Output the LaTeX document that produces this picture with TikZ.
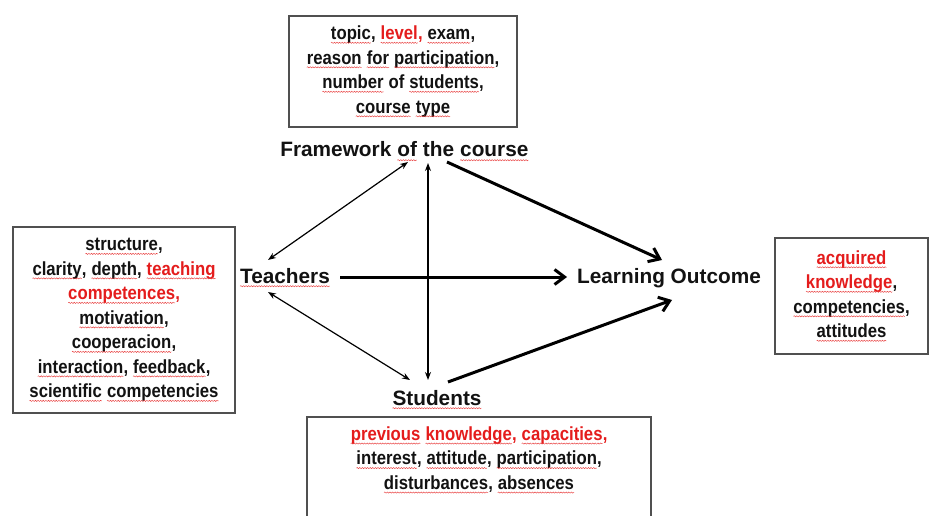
\documentclass[tikz,border=0pt]{standalone}
\usepackage{fontspec}
\setmainfont{Liberation Sans}
\newfontfamily\boxfont{Liberation Sans}[FakeStretch=0.88]
\usepackage{xcolor}
\usetikzlibrary{arrows.meta,calc,decorations.pathmorphing}

\definecolor{hot}{RGB}{228,28,28}
\definecolor{frame}{RGB}{80,80,80}
\definecolor{ink}{RGB}{18,18,18}

\tikzset{
  wvword/.style={inner sep=0pt, outer sep=0pt, draw=none, fill=none,
    minimum width=0pt, minimum height=0pt, anchor=base},
  wvline/.style={draw=hot!85, line width=0.45pt, decorate,
    decoration={snake, amplitude=0.6pt, segment length=2.6pt}},
}

% a word with a red wavy underline
\newcommand\wv[2][ink]{\tikz[baseline=(w.base)]{\node[wvword,text=#1] (w) {#2};%
  \draw[wvline] ([yshift=-3.2pt]w.base west) -- ([yshift=-3.2pt]w.base east);}}
\newcommand\hl[1]{\textcolor{hot}{#1}}

\begin{document}
\begin{tikzpicture}[x=1pt,y=-1pt,
  termlabel/.style={font=\bfseries\fontsize{20.8}{24}\selectfont, text=ink, inner sep=0pt, outer sep=0pt},
  boxtext/.style={font=\boxfont\bfseries\fontsize{19}{24.5}\selectfont, text=ink, align=center, inner sep=0pt},
  infobox/.style={boxtext, draw=frame, line width=1.5pt},
  link/.style={line width=1.2pt, {Stealth[length=8pt,width=6pt]}-{Stealth[length=8pt,width=6pt]}},
  effect/.style={line width=3pt, -{Straight Barb[length=10pt,width=15pt]}}]

\useasboundingbox (0,0) rectangle (932,516);
\clip (0,0) rectangle (932,516);

% boxes with the factors
\node[infobox, minimum width=228pt, minimum height=111pt] (fwbox) at (403,71.5)
  {\wv{topic}, \wv[hot]{level}\hl{,} \wv{exam},\\
   \wv{reason} \wv{for} \wv{participation},\\
   \wv{number} of \wv{students},\\
   \wv{course} \wv{type}};

\node[infobox, minimum width=222pt, minimum height=186pt] (tebox) at (124,320)
  {\wv{structure},\\
   \wv{clarity}, \wv{depth}, \wv[hot]{teaching}\\
   \wv[hot]{competences}\hl{,}\\
   \wv{motivation},\\
   \wv{cooperacion},\\
   \wv{interaction}, \wv{feedback},\\
   \wv{scientific} \wv{competencies}};

\node[infobox, minimum width=153pt, minimum height=116pt] (lobox) at (851.5,296)
  {\wv[hot]{acquired}\\
   \wv[hot]{knowledge},\\
   \wv{competencies},\\
   \wv{attitudes}};

\node[infobox, minimum width=344pt, minimum height=140pt, anchor=north] (stbox) at (479,416) {};
\node[boxtext] (sttext) at (479,460)
  {\wv[hot]{previous} \wv[hot]{knowledge}\hl{,} \wv[hot]{capacities}\hl{,}\\
   \wv{interest}, \wv{attitude}, \wv{participation},\\
   \wv{disturbances}, \wv{absences}};

% the four factors
\node[termlabel, anchor=base] (fw) at (404.5,157) {Framework \wv{of} the \wv{course}};
\node[termlabel, anchor=base] (te) at (285,283) {\wv{Teachers}};
\node[termlabel, anchor=base] (st) at (437,405) {\wv{Students}};
\node[termlabel, anchor=base] (lo) at (669,283) {Learning Outcome};

% mutual influences
\draw[link] ($(fw.base)+(3.5,5)$) -- ($(te.base)+(-17,-23)$);
\draw[link] ($(fw.base)+(23.5,6)$) -- ($(st.base)+(-9,-25)$);
\draw[link] ($(te.base)+(-17,9)$) -- ($(st.base)+(-27,-25)$);

% effects on the outcome
\draw[effect] ($(fw.base)+(42.5,5)$) -- ($(lo.base)+(-7,-23)$);
\draw[effect] ($(te.base)+(55,-6)$) -- ($(lo.base)+(-102,-6)$);
\draw[effect] ($(st.base)+(11,-23)$) -- ($(lo.base)+(3,17)$);
\end{tikzpicture}
\end{document}
